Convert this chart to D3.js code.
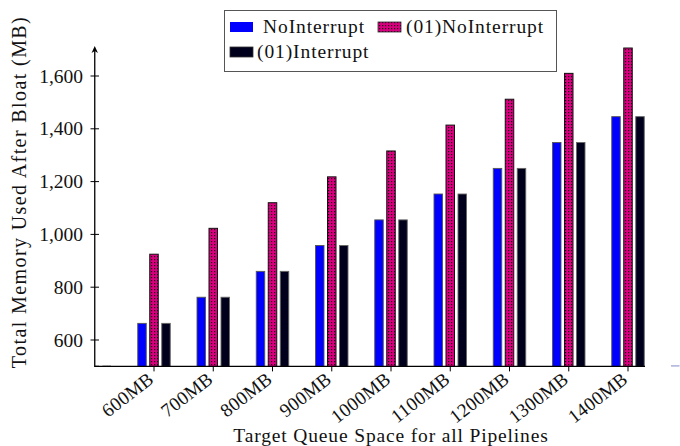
<!DOCTYPE html>
<html>
<head>
<meta charset="utf-8">
<script src="https://cdn.jsdelivr.net/npm/d3@7"></script>
<style>
  body { margin: 0; background: #fff; }
  text { font-family: "Liberation Serif", "Times New Roman", serif; fill: #111; }
</style>
</head>
<body>
<div id="chart-area"></div>
<script>
// data
var categories = ["600MB", "700MB", "800MB", "900MB", "1000MB", "1100MB", "1200MB", "1300MB", "1400MB"];
var edgeCategories = ["500MB", "1500MB"];   // groups that fall below the axis, only a stub shows
var seriesNames = ["NoInterrupt", "(01)NoInterrupt", "(01)Interrupt"];
var noInterrupt = [663, 762, 860, 958, 1055, 1153, 1250, 1348, 1446];
var noInterrupt01 = [925, 1023, 1120, 1218, 1316, 1414, 1512, 1610, 1706];
var interrupt01 = [663, 762, 860, 958, 1055, 1153, 1250, 1348, 1446];
var yTicks = [600, 800, 1000, 1200, 1400, 1600];

var width = 680, height = 446;

var svg = d3.select("#chart-area")
    .append("svg")
    .attr("width", width)
    .attr("height", height);

// pattern for the dotted magenta bars
var defs = svg.append("defs");
var pat = defs.append("pattern")
    .attr("id", "dots")
    .attr("patternUnits", "userSpaceOnUse")
    .attr("width", 3)
    .attr("height", 3);
pat.append("rect").attr("width", 3).attr("height", 3).attr("fill", "#d8007f");
pat.append("rect").attr("x", 1).attr("y", 1).attr("width", 1.2).attr("height", 1.2).attr("fill", "#1a0010");

var seriesStyle = [
    { fill: "#0000ff", stroke: "#555" },
    { fill: "url(#dots)", stroke: "#111" },
    { fill: "#00001c", stroke: "#666" }
];
var legendFill = ["#0000ff", "url(#dots)", "#00001c"];

// scales
var allCats = [edgeCategories[0]].concat(categories, [edgeCategories[1]]);
var x = d3.scalePoint()
    .domain(allCats)
    .range([94.75, 687.25]);

var y = d3.scaleLinear()
    .domain([500, 1600])
    .range([366.4, 76]);

var offsets = [-12, 0, 12];
var barW = 8.5;
var baseY = y(500);

// bars
var series = [noInterrupt, noInterrupt01, interrupt01];
series.forEach(function (vals, s) {
    svg.append("g")
        .selectAll("rect")
        .data(vals)
        .enter()
        .append("rect")
        .attr("x", function (d, i) { return x(categories[i]) + offsets[s] - barW / 2; })
        .attr("y", function (d) { return y(d); })
        .attr("width", barW)
        .attr("height", function (d) { return baseY - y(d); })
        .attr("fill", seriesStyle[s].fill)
        .attr("stroke", seriesStyle[s].stroke)
        .attr("stroke-width", s === 1 ? 1 : 0.9);
});

// stubs of the hidden groups on the baseline
var stubs = [];
edgeCategories.forEach(function (c) {
    offsets.forEach(function (o, s) {
        var cx = x(c) + o;
        if (cx - barW / 2 >= 90 && cx - barW / 2 < width) stubs.push({ cx: cx, s: s });
    });
});
svg.append("g")
    .selectAll("line")
    .data(stubs)
    .enter()
    .append("line")
    .attr("x1", function (d) { return Math.max(95, d.cx - barW / 2); })
    .attr("x2", function (d) { return d.cx + barW / 2; })
    .attr("y1", baseY - 0.5)
    .attr("y2", baseY - 0.5)
    .attr("stroke", function (d) { return d.s === 0 ? "#aab0d8" : "#b8b8b8"; })
    .attr("stroke-width", 1.5);

// x axis
var xAxisG = svg.append("g");
xAxisG.append("line")
    .attr("x1", 94.75)
    .attr("x2", x("1400MB") + 17)
    .attr("y1", baseY)
    .attr("y2", baseY)
    .attr("stroke", "#000")
    .attr("stroke-width", 1.3);

xAxisG.selectAll(".xtick")
    .data(categories)
    .enter()
    .append("line")
    .attr("class", "xtick")
    .attr("x1", function (d) { return x(d); })
    .attr("x2", function (d) { return x(d); })
    .attr("y1", baseY)
    .attr("y2", baseY + 5)
    .attr("stroke", "#000");

xAxisG.selectAll(".xlabel")
    .data(categories)
    .enter()
    .append("text")
    .attr("class", "xlabel")
    .attr("text-anchor", "end")
    .attr("font-size", "19px")
    .attr("letter-spacing", "0.3px")
    .attr("transform", function (d) {
        return "translate(" + (x(d) + 1) + "," + (baseY + 15) + ") rotate(-38)";
    })
    .text(function (d) { return d; });

// y axis
var yAxisG = svg.append("g");
yAxisG.append("line")
    .attr("x1", 94.75)
    .attr("x2", 94.75)
    .attr("y1", baseY + 0.6)
    .attr("y2", 49)
    .attr("stroke", "#000")
    .attr("stroke-width", 1.3);
yAxisG.append("path")
    .attr("d", "M" + 94.75 + ",46 l-3.2,7 l3.2,-2 l3.2,2 z")
    .attr("fill", "#000");

yAxisG.selectAll(".ytick")
    .data(yTicks)
    .enter()
    .append("line")
    .attr("x1", 90.5)
    .attr("x2", 99)
    .attr("y1", function (d) { return y(d); })
    .attr("y2", function (d) { return y(d); })
    .attr("stroke", "#000");

yAxisG.selectAll(".ylabel")
    .data(yTicks)
    .enter()
    .append("text")
    .attr("text-anchor", "end")
    .attr("font-size", "19.5px")
    .attr("x", 83)
    .attr("y", function (d) { return y(d) + 6.5; })
    .text(function (d) { return d3.format(",")(d); });

// axis titles
svg.append("text")
    .attr("text-anchor", "middle")
    .attr("font-size", "19.5px")
    .attr("letter-spacing", "0.85px")
    .attr("x", 391)
    .attr("y", 442)
    .text("Target Queue Space for all Pipelines");

svg.append("text")
    .attr("text-anchor", "middle")
    .attr("font-size", "20px")
    .attr("letter-spacing", "1.4px")
    .attr("transform", "translate(26,192) rotate(-90)")
    .text("Total Memory Used After Bloat (MB)");

// legend
var legend = svg.append("g");
legend.append("rect")
    .attr("x", 224.5)
    .attr("y", 10.5)
    .attr("width", 332)
    .attr("height", 61)
    .attr("fill", "#fff")
    .attr("stroke", "#555");

var legendPos = [
    { sx: 230, sy: 22, tx: 263, ty: 33 },
    { sx: 378, sy: 22, tx: 406, ty: 33 },
    { sx: 230, sy: 47, tx: 257, ty: 58 }
];

var items = legend.selectAll(".item")
    .data(seriesNames)
    .enter()
    .append("g")
    .attr("class", "item");

items.append("rect")
    .attr("x", function (d, i) { return legendPos[i].sx; })
    .attr("y", function (d, i) { return legendPos[i].sy; })
    .attr("width", 23)
    .attr("height", 10)
    .attr("fill", function (d, i) { return legendFill[i]; })
    .attr("stroke", function (d, i) { return i === 0 ? "none" : "#333"; })
    .attr("stroke-width", 0.8);

items.append("text")
    .attr("font-size", "19.5px")
    .attr("letter-spacing", "0.9px")
    .attr("x", function (d, i) { return legendPos[i].tx; })
    .attr("y", function (d, i) { return legendPos[i].ty; })
    .text(function (d) { return d; });
</script>
</body>
</html>
